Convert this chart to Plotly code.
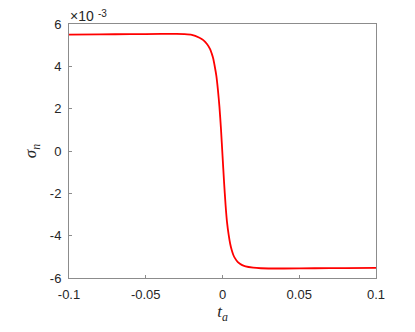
import plotly.graph_objects as go

t_a = [-0.1, -0.08, -0.06, -0.04, -0.03, -0.025, -0.02, -0.015, -0.0125, -0.01,
       -0.008, -0.007, -0.006, -0.005, -0.004, -0.003, -0.002, -0.001, 0.0,
       0.001, 0.002, 0.003, 0.004, 0.005, 0.006, 0.007, 0.008, 0.01, 0.0125,
       0.015, 0.02, 0.025, 0.03, 0.04, 0.06, 0.08, 0.1]
sigma_n_e3 = [5.50, 5.51, 5.52, 5.53, 5.53, 5.52, 5.49, 5.35, 5.24, 5.04,
              4.80, 4.60, 4.36, 3.98, 3.55, 2.90, 2.10, 1.05, -0.20,
              -1.45, -2.55, -3.40, -3.95, -4.38, -4.68, -4.90, -5.05, -5.25, -5.38,
              -5.45, -5.51, -5.54, -5.55, -5.55, -5.54, -5.53, -5.52]
sigma_n = [v * 1e-3 for v in sigma_n_e3]

x_ticks = [-0.1, -0.05, 0, 0.05, 0.1]
x_tick_labels = ["-0.1", "-0.05", "0", "0.05", "0.1"]
y_ticks = [-6e-3, -4e-3, -2e-3, 0, 2e-3, 4e-3, 6e-3]
y_tick_labels = ["-6", "-4", "-2", "0", "2", "4", "6"]
exp_base = "×10"
exp_power = "-3"

fig = go.Figure()
fig.add_trace(go.Scatter(x=t_a, y=sigma_n, mode="lines",
                         line=dict(color="#ff0000", width=1.8, shape="spline", smoothing=0.6),
                         showlegend=False, hoverinfo="skip"))

axis_common = dict(showgrid=False, zeroline=False, showline=True, mirror=True, automargin=False,
                   linecolor="#8c8c8c", linewidth=1, ticks="inside", ticklen=3,
                   tickcolor="#8c8c8c", tickfont=dict(family="Liberation Sans, Arial", size=13, color="#262626"))

# the page body adds an 8px offset, so the figure is sized to fit the 415x332 window
fig.update_layout(
    width=407, height=324,
    margin=dict(l=61, r=39, t=16, b=54, autoexpand=False),
    paper_bgcolor="white", plot_bgcolor="white",
    xaxis=dict(range=[-0.1, 0.1], tickvals=x_ticks, ticktext=x_tick_labels,
               title=dict(text="<i>t<sub>a</sub></i>", font=dict(family="Liberation Serif, Times New Roman", size=17, color="#262626"), standoff=4),
               ticklabelstandoff=4, **axis_common),
    yaxis=dict(range=[-6e-3, 6e-3], tickvals=y_ticks, ticktext=y_tick_labels,
               title=dict(text="<i>σ<sub>n</sub></i>", font=dict(family="Liberation Serif, Times New Roman", size=17, color="#262626"), standoff=8),
               ticklabelstandoff=4, **axis_common),
    annotations=[
        dict(text=exp_base, xref="paper", yref="paper", x=0, y=1,
             xanchor="left", yanchor="bottom", showarrow=False, xshift=-1, yshift=-2,
             font=dict(family="Liberation Sans, Arial", size=14, color="#262626")),
        dict(text=exp_power, xref="paper", yref="paper", x=0, y=1,
             xanchor="left", yanchor="bottom", showarrow=False, xshift=27, yshift=3,
             font=dict(family="Liberation Sans, Arial", size=10, color="#262626")),
    ],
)

fig.write_html("out.html")
